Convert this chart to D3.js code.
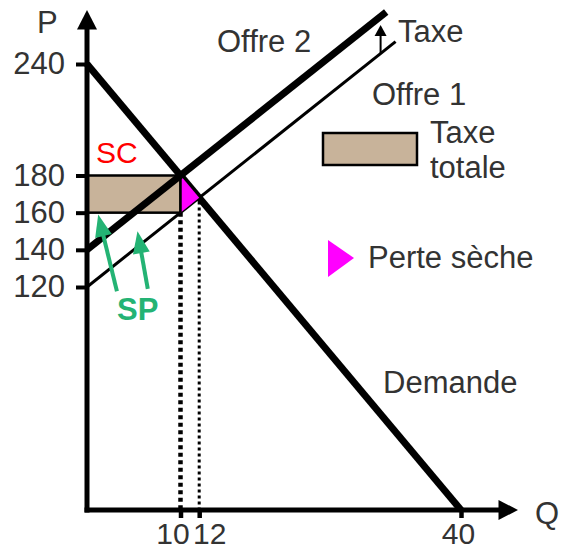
<!DOCTYPE html>
<html><head><meta charset="utf-8">
<script src="https://cdn.jsdelivr.net/npm/d3@7"></script>
<style>
html,body{margin:0;padding:0;background:#fff;}
svg{display:block;}
text{font-family:"Liberation Sans",Arial,sans-serif;}
</style></head>
<body>
<svg id="chart" width="570" height="552"></svg>
<script>
// ---- data (Q, P) ----
const qTicks = [10, 12, 40];
const pTicks = [120, 140, 160, 180, 240];
const demande = [[0, 240], [40, 0]];
const offre1 = [[0, 120], [33, 252]];
const offre2 = [[0, 140], [32, 268]];
const taxeTotale = [[0, 160], [10, 180]];
const perteSeche = [[10, 180], [10, 160], [12, 168]];
const dropQ10 = [[10, 160], [10, 0]];
const dropQ12 = [[12, 166], [12, 0]];
const taxeArrow = [[31.4, 245.6], [31.4, 261]];
const spArrows = [[[3.2, 117.7], [1.2, 159]], [[6.5, 119], [5.4, 150]]];
const labels = {axisP: "P", axisQ: "Q", offre1: "Offre 1", offre2: "Offre 2", taxe: "Taxe",
  taxeTotale: ["Taxe", "totale"], perte: "Perte sèche", demande: "Demande", sc: "SC", sp: "SP"};

const svg = d3.select("#chart");
const x = d3.scaleLinear().domain([0, 40]).range([87, 461]);
const y = d3.scaleLinear().domain([0, 240]).range([510, 64]);
const line = d3.line().x(d => x(d[0])).y(d => y(d[1]));
const TXT = "#333";
const FS = 31;

function arrow(g, x1, y1, x2, y2, hl, hw, color, sw) {
  const dx = x2 - x1, dy = y2 - y1, L = Math.hypot(dx, dy);
  const ux = dx / L, uy = dy / L;
  const bx = x2 - ux * hl, by = y2 - uy * hl;
  g.append("line").attr("x1", x1).attr("y1", y1).attr("x2", bx + ux * 1).attr("y2", by + uy * 1)
    .attr("stroke", color).attr("stroke-width", sw);
  g.append("polygon").attr("points", [
    [x2, y2], [bx - uy * hw / 2, by + ux * hw / 2], [bx + uy * hw / 2, by - ux * hw / 2]
  ].map(p => p.join(",")).join(" ")).attr("fill", color);
}

// tax rectangle
svg.append("rect")
  .attr("x", x(taxeTotale[0][0])).attr("y", y(taxeTotale[1][1]))
  .attr("width", x(taxeTotale[1][0]) - x(taxeTotale[0][0]))
  .attr("height", y(taxeTotale[0][1]) - y(taxeTotale[1][1]))
  .attr("fill", "#c8b39a").attr("stroke", "#000").attr("stroke-width", 2.5);

// dotted drops
svg.append("path").attr("d", line(dropQ10)).attr("stroke", "#000").attr("stroke-width", 4.5)
  .attr("stroke-dasharray", "4,3.5").attr("fill", "none");
svg.append("path").attr("d", line(dropQ12)).attr("stroke", "#000").attr("stroke-width", 3)
  .attr("stroke-dasharray", "3,3").attr("fill", "none");

// curves
svg.append("path").attr("d", line(offre1)).attr("stroke", "#000").attr("stroke-width", 3).attr("fill", "none");
svg.append("path").attr("d", line(demande)).attr("stroke", "#000").attr("stroke-width", 7).attr("fill", "none");

// dead-weight loss (over demand, under supply 2)
svg.append("path").attr("d", line(perteSeche) + "Z").attr("fill", "#ff00ff");

svg.append("path").attr("d", line(offre2)).attr("stroke", "#000").attr("stroke-width", 7).attr("fill", "none");

// rect right edge
svg.append("line").attr("x1", x(10)).attr("x2", x(10)).attr("y1", y(180)).attr("y2", y(160))
  .attr("stroke", "#000").attr("stroke-width", 2.5);

// tax arrow
arrow(svg, x(taxeArrow[0][0]), y(taxeArrow[0][1]), x(taxeArrow[1][0]), y(taxeArrow[1][1]), 11, 12, "#000", 2);

// SP arrows
spArrows.forEach(a => arrow(svg, x(a[0][0]), y(a[0][1]), x(a[1][0]), y(a[1][1]), 22, 17, "#24b374", 4));

// axes
const yAxis = svg.append("g").attr("transform", `translate(${x(0)},0)`)
  .call(d3.axisLeft(y).tickValues(pTicks).tickSize(11).tickPadding(11));
yAxis.select(".domain").remove();
yAxis.selectAll(".tick line").attr("stroke", "#000").attr("stroke-width", 4);
yAxis.selectAll(".tick text").attr("font-size", FS).attr("fill", TXT)
  .attr("font-family", "Liberation Sans, Arial, sans-serif");

const xOff = {10: -8, 12: 10, 40: -3};
const xAxis = svg.append("g").attr("transform", `translate(0,${y(0)})`)
  .call(d3.axisBottom(x).tickValues(qTicks).tickSize(8).tickPadding(5));
xAxis.select(".domain").remove();
xAxis.selectAll(".tick line").attr("stroke", "#000").attr("stroke-width", 4.5);
xAxis.selectAll(".tick text").attr("font-size", 30).attr("fill", TXT)
  .attr("font-family", "Liberation Sans, Arial, sans-serif")
  .attr("dx", d => xOff[d] || 0);

// axis lines with arrowheads
svg.append("line").attr("x1", x(0)).attr("x2", x(0)).attr("y1", y(0) + 2.5).attr("y2", 29)
  .attr("stroke", "#000").attr("stroke-width", 5);
svg.append("polygon").attr("points", `${x(0)},10 ${x(0) - 10},29.5 ${x(0) + 10},29.5`).attr("fill", "#000");
svg.append("line").attr("x1", x(0) - 2.5).attr("x2", 499).attr("y1", y(0)).attr("y2", y(0))
  .attr("stroke", "#000").attr("stroke-width", 5);
svg.append("polygon").attr("points", `518,${y(0)} 498.5,${y(0) - 10} 498.5,${y(0) + 10}`).attr("fill", "#000");

// legend
svg.append("rect").attr("x", 323).attr("y", 133).attr("width", 94).attr("height", 32)
  .attr("fill", "#c8b39a").attr("stroke", "#000").attr("stroke-width", 2.5);
svg.append("polygon").attr("points", "328,240 328,277 354,258").attr("fill", "#ff00ff");

// texts
function txt(s, tx, ty, opts = {}) {
  return svg.append("text").attr("x", tx).attr("y", ty).text(s)
    .attr("font-size", opts.size || FS).attr("fill", opts.fill || TXT)
    .attr("font-weight", opts.weight || "normal")
    .attr("text-anchor", opts.anchor || "start");
}
txt(labels.axisP, 37, 33);
txt(labels.axisQ, 535, 524);
txt(labels.offre2, 217, 52);
txt(labels.taxe, 398, 42);
txt(labels.offre1, 372, 105);
txt(labels.taxeTotale[0], 430, 143);
txt(labels.taxeTotale[1], 430, 178);
txt(labels.perte, 368, 268);
txt(labels.demande, 383, 393);
txt(labels.sc, 96, 163, {fill: "#ff0000", size: 30});
txt(labels.sp, 117, 320, {fill: "#24b374", weight: "bold"});
</script>
</body></html>
